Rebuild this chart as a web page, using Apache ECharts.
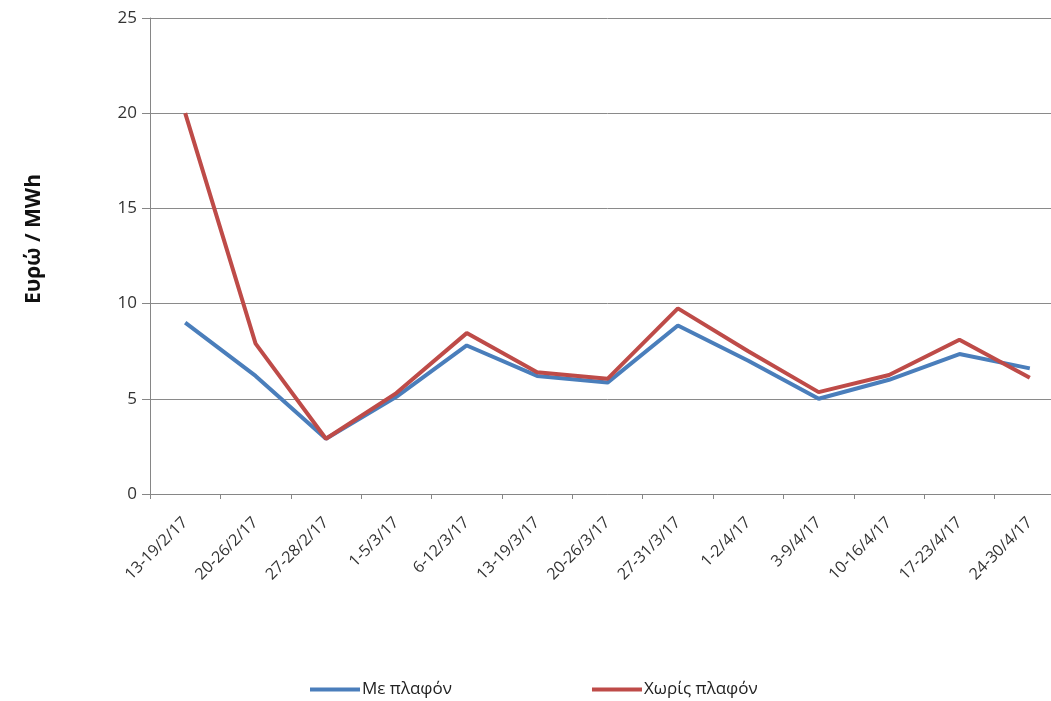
<!DOCTYPE html>
<html><head><meta charset="utf-8">
<script src="https://cdn.jsdelivr.net/npm/echarts@6/dist/echarts.min.js"></script>
<style>html,body{margin:0;padding:0;background:#fff;overflow:hidden;width:1051px;height:701px}#c{width:1065px;height:701px}</style>
</head><body><div id="c"></div>
<script>
const categories = ["13-19/2/17","20-26/2/17","27-28/2/17","1-5/3/17","6-12/3/17","13-19/3/17","20-26/3/17","27-31/3/17","1-2/4/17","3-9/4/17","10-16/4/17","17-23/4/17","24-30/4/17"];
const withCap = [9.0, 6.2, 2.9, 5.1, 7.8, 6.2, 5.85, 8.85, 7.0, 5.0, 6.0, 7.35, 6.6];
const withoutCap = [20.0, 7.9, 2.9, 5.3, 8.45, 6.4, 6.05, 9.75, 7.5, 5.35, 6.25, 8.1, 6.1];
const yTicks = {min: 0, max: 25, interval: 5};
const seriesNames = ["Με πλαφόν", "Χωρίς πλαφόν"];
const yTitle = "Ευρώ / MWh";

const font = "'Open Sans', 'Liberation Sans', sans-serif";
const chart = echarts.init(document.getElementById('c'));
chart.setOption({
  animation: false,
  grid: {left: 150, right: 0, top: 18, height: 476},
  legend: {
    top: 676, left: 305, itemWidth: 50, itemHeight: 4, itemGap: 140,
    icon: 'rect',
    textStyle: {fontFamily: font, fontSize: 17, color: '#222', padding: [0,0,0,-3]},
    data: seriesNames
  },
  graphic: [{
    type: 'text', x: 34, y: 239, rotation: Math.PI/2,
    style: {text: yTitle, fontFamily: font, fontSize: 21, fontWeight: 'bold', fill: '#111', align: 'center', verticalAlign: 'middle'}
  }],
  xAxis: {
    type: 'category', data: categories, boundaryGap: true,
    axisLine: {lineStyle: {color: '#868686', width: 1}},
    axisTick: {show: true, length: 5, lineStyle: {color: '#868686'}},
    axisLabel: {rotate: 45, fontFamily: font, fontSize: 16, color: '#333', margin: 26, interval: 0}
  },
  yAxis: {
    type: 'value', min: yTicks.min, max: yTicks.max, interval: yTicks.interval,
    axisLine: {show: true, lineStyle: {color: '#868686'}},
    axisTick: {show: true, length: 8, inside: false, lineStyle: {color: '#868686'}},
    splitLine: {lineStyle: {color: '#8a8a8a', width: 1}},
    axisLabel: {fontFamily: font, fontSize: 17, color: '#333', margin: 13}
  },
  series: [
    {name: seriesNames[0], type: 'line', data: withCap, symbol: 'none',
     lineStyle: {color: '#4A7EBB', width: 4}, itemStyle: {color: '#4A7EBB'}},
    {name: seriesNames[1], type: 'line', data: withoutCap, symbol: 'none',
     lineStyle: {color: '#BE4B48', width: 4}, itemStyle: {color: '#BE4B48'}}
  ]
});
</script></body></html>
